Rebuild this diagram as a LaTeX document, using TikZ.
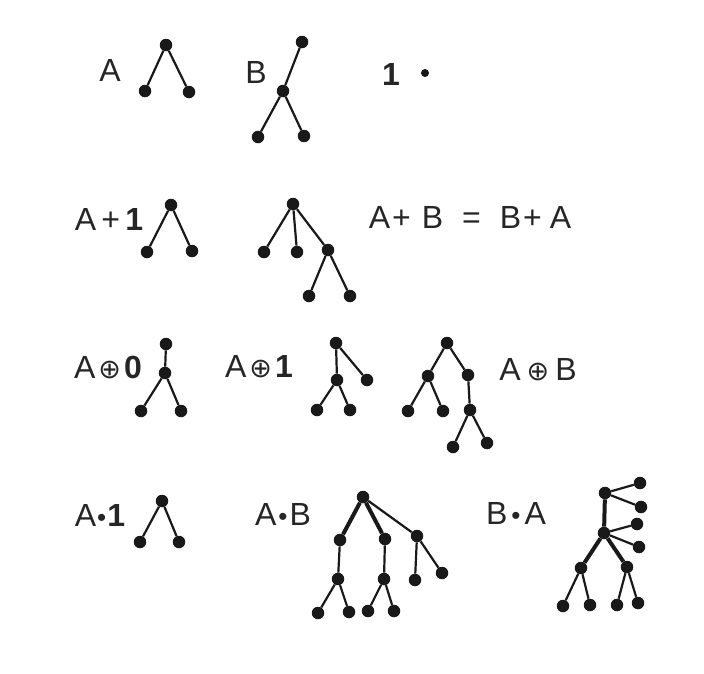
\documentclass[tikz,border=0pt]{standalone}
\usepackage{fontspec}
\setmainfont{Liberation Sans}
\newfontfamily\symfont{DejaVu Sans}
\usepackage{tikz}

\newcommand{\circplus}{{\symfont\fontsize{27}{27}\selectfont ⊕}}
\newcommand{\bdot}{{\fontsize{26}{26}\selectfont •}}

\tikzset{
  vertex/.style={circle, fill=black!90, inner sep=0pt, minimum size=12.5pt},
  tiny/.style={circle, fill=black!90, inner sep=0pt, minimum size=8pt},
  label/.style={font=\fontsize{32}{32}\selectfont, text=black!85, inner sep=0pt},
  tree/.style={draw=black!90, line width=2.2pt},
  heavy/.style={line width=4pt}
}

\begin{document}
\begin{tikzpicture}[x=1pt, y=-1pt]
        \useasboundingbox[fill=white] (0,0) rectangle (704,673);

        % row 1
        \node[label] (lA) at (110,70) {A};
        \node[vertex] (a0) at (166,45) {};
        \node[vertex] (a1) at (145,91) {};
        \node[vertex] (a2) at (189,92) {};
        \path[tree] (a0) edge (a1) (a0) edge (a2);

        \node[label] (lB) at (256,72) {B};
        \node[vertex] (b0) at (302,42) {};
        \node[vertex] (b1) at (283,91) {};
        \node[vertex] (b2) at (258,137) {};
        \node[vertex] (b3) at (304,136) {};
        \path[tree] (b0) edge (b1) (b1) edge (b2) (b1) edge (b3);

        \node[label] (lone) at (391,74) {\textbf{1}};
        \node[tiny] (o0) at (425,73) {};

        % row 2
        \node[label] (lsum) at (109,219) {A\,+\,\textbf{1}};
        \node[vertex] (p0) at (171,205) {};
        \node[vertex] (p1) at (147,252) {};
        \node[vertex] (p2) at (192,251) {};
        \path[tree] (p0) edge (p1) (p0) edge (p2);

        \node[vertex] (s0) at (293,204) {};
        \node[vertex] (s1) at (264,252) {};
        \node[vertex] (s2) at (297,252) {};
        \node[vertex] (s3) at (328,250) {};
        \node[vertex] (s4) at (309,296) {};
        \node[vertex] (s5) at (350,296) {};
        \path[tree]
        (s0) edge (s1)
        (s0) edge (s2)
        (s0) edge (s3)
        (s3) edge (s4)
        (s3) edge (s5);

        \node[label] (lcomm) at (470,217) {A\hspace{2pt}+\hspace{11pt}B\hspace{19pt}=\hspace{19pt}B\hspace{2pt}+\hspace{8pt}A};

        % row 3
        \node[label] (lzero) at (108,368) {A\hspace{3pt}\circplus\hspace{3pt}\textbf{0}};
        \node[vertex] (z0) at (166,344) {};
        \node[vertex] (z1) at (165,373) {};
        \node[vertex] (z2) at (141,411) {};
        \node[vertex] (z3) at (181,411) {};
        \path[tree] (z0) edge (z1) (z1) edge (z2) (z1) edge (z3);

        \node[label] (lplus) at (259,367) {A\hspace{3pt}\circplus\hspace{3pt}\textbf{1}};
        \node[vertex] (u0) at (336,343) {};
        \node[vertex] (u1) at (337,380) {};
        \node[vertex] (u2) at (367,380) {};
        \node[vertex] (u3) at (317,410) {};
        \node[vertex] (u4) at (350,410) {};
        \path[tree]
        (u0) edge (u1)
        (u0) edge (u2)
        (u1) edge (u3)
        (u1) edge (u4);

        \node[vertex] (v0) at (447,343) {};
        \node[vertex] (v1) at (428,376) {};
        \node[vertex] (v2) at (468,375) {};
        \node[vertex] (v3) at (408,411) {};
        \node[vertex] (v4) at (443,411) {};
        \node[vertex] (v5) at (470,410) {};
        \node[vertex] (v6) at (453,447) {};
        \node[vertex] (v7) at (487,443) {};
        \path[tree]
        (v0) edge (v1)
        (v0) edge (v2)
        (v1) edge (v3)
        (v1) edge (v4)
        (v2) edge (v5)
        (v5) edge (v6)
        (v5) edge (v7);

        \node[label] (lsumAB) at (538,370) {A\hspace{6pt}\circplus\hspace{6pt}B};

        % row 4
        \node[label] (ltimes) at (100,515) {A\hspace{1pt}\bdot\hspace{1pt}\textbf{1}};
        \node[vertex] (w0) at (162,501) {};
        \node[vertex] (w1) at (140,542) {};
        \node[vertex] (w2) at (179,542) {};
        \path[tree] (w0) edge (w1) (w0) edge (w2);

        \node[label] (lAB) at (283,514) {A\hspace{2pt}\bdot\hspace{2pt}B};
        \node[vertex] (m0) at (363,497) {};
        \node[vertex] (m1) at (340,540) {};
        \node[vertex] (m2) at (385,539) {};
        \node[vertex] (m3) at (417,536) {};
        \node[vertex] (m4) at (338,579) {};
        \node[vertex] (m5) at (384,579) {};
        \node[vertex] (m6) at (415,580) {};
        \node[vertex] (m7) at (442,573) {};
        \node[vertex] (m8) at (318,613) {};
        \node[vertex] (m9) at (349,612) {};
        \node[vertex] (m10) at (368,611) {};
        \node[vertex] (m11) at (394,611) {};
        \path[tree]
        (m0) edge[heavy] (m1)
        (m0) edge[heavy] (m2)
        (m0) edge (m3)
        (m1) edge (m4)
        (m2) edge (m5)
        (m3) edge (m6)
        (m3) edge (m7)
        (m4) edge (m8)
        (m4) edge (m9)
        (m5) edge (m10)
        (m5) edge (m11);

        \node[label] (lBA) at (516,513) {B\hspace{4pt}\bdot\hspace{4pt}A};
        \node[vertex] (n0) at (605,493) {};
        \node[vertex] (n1) at (640,483) {};
        \node[vertex] (n2) at (641,507) {};
        \node[vertex] (n3) at (604,533) {};
        \node[vertex] (n4) at (637,524) {};
        \node[vertex] (n5) at (639,547) {};
        \node[vertex] (n6) at (581,568) {};
        \node[vertex] (n7) at (627,567) {};
        \node[vertex] (n8) at (563,606) {};
        \node[vertex] (n9) at (590,605) {};
        \node[vertex] (n10) at (617,605) {};
        \node[vertex] (n11) at (638,603) {};
        \path[tree]
        (n0) edge (n1)
        (n0) edge (n2)
        (n0) edge[heavy] (n3)
        (n3) edge (n4)
        (n3) edge (n5)
        (n3) edge[heavy] (n6)
        (n3) edge[heavy] (n7)
        (n6) edge (n8)
        (n6) edge (n9)
        (n7) edge (n10)
        (n7) edge (n11);

    \end{tikzpicture}
\end{document}
